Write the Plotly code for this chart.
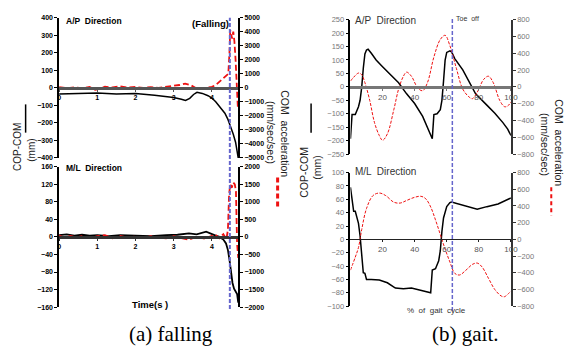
import plotly.graph_objects as go

W, H = 575, 354

# ---------------- (a) falling ----------------
fall_ap_cop_t = [0, 0.5, 1.0, 1.5, 2.0, 2.5, 3.0, 3.2, 3.31, 3.42, 3.52, 3.61, 3.75, 3.9, 4.0, 4.1,
                 4.17, 4.25, 4.34, 4.42, 4.47, 4.52, 4.56, 4.62, 4.67, 4.69]
fall_ap_cop = [-36, -33, -30, -35, -33, -42, -55, -65, -72, -60, -38, -26, -32, -45, -58, -80,
               -100, -120, -145, -180, -208, -235, -265, -310, -375, -400]

fall_ap_acc_t = [0, 0.2, 0.4, 0.6, 0.8, 0.95, 1.05, 1.2, 1.4, 1.6, 1.8, 2.0, 2.2, 2.4, 2.6, 2.8, 3.0,
                 3.15, 3.3, 3.45, 3.6, 3.75, 3.9, 4.0, 4.1, 4.2, 4.3, 4.38, 4.43, 4.46, 4.48, 4.5,
                 4.53, 4.56, 4.59, 4.62, 4.65, 4.68]
fall_ap_acc = [50, -30, 40, -20, 60, -150, -80, 80, 30, 100, 20, 60, -10, 50, 0, 80, 120,
               200, 300, 180, -50, -80, 30, 70, 200, 450, 700, 900, 1000, 2500, 4100, 3900,
               3500, 4000, 3300, 2000, 500, -1400]

fall_ml_cop_t = [0, 0.2, 0.4, 0.6, 0.8, 1.0, 1.3, 1.6, 2.0, 2.4, 2.8, 3.1, 3.4, 3.6, 3.85, 4.0, 4.1,
                 4.2, 4.3, 4.37, 4.42, 4.46, 4.5, 4.54, 4.58, 4.62, 4.66, 4.69]
fall_ml_cop = [4, 6, 3, 5, 3, 4, 2, 4, 3, 2, 4, 5, 8, 6, 12, 6, 3,
               0, -6, -15, -30, -52, -80, -105, -118, -125, -130, -150]

fall_ml_acc_t = [0, 0.15, 0.3, 0.45, 0.6, 0.8, 1.0, 1.2, 1.4, 1.6, 1.8, 2.0, 2.2, 2.4, 2.6, 2.8, 3.0,
                 3.2, 3.4, 3.6, 3.8, 4.0, 4.1, 4.2, 4.3, 4.38, 4.42, 4.45, 4.48, 4.52, 4.56, 4.6,
                 4.63, 4.66, 4.69]
fall_ml_acc = [40, -20, 30, -10, 20, -30, 20, 50, -40, 30, -20, 10, -30, 20, -10, -40, 20,
               -30, -80, 10, -50, 30, 60, -40, 80, -60, 200, 1200, 1500, 1400, 1550, 1500,
               1300, -200, -600]

fall_event_t = 4.47

# ---------------- (b) gait ----------------
gait_ap_cop_x = [0, 1, 3, 5, 6, 7, 8, 9, 10, 11, 13, 16, 20, 25, 30, 35, 40, 45, 50, 51, 52, 54,
                 56, 57, 58, 59, 60, 61, 62, 63, 65, 70, 75, 78, 85, 90, 95, 98, 100]
gait_ap_cop = [-193, -103, -103, -74, -50, -2, 69, 122, 137, 140, 125, 100, 75, 45, 15, -26, -62,
               -110, -175, -193, -103, -100, -85, -50, 21, 99, 128, 131, 134, 130, 105, 63, 4,
               -26, -68, -98, -133, -157, -181]

gait_ap_acc_x = [0, 2, 5, 7, 9, 12, 15, 18, 20, 23, 27, 30, 33, 35, 38, 42, 45, 48, 52, 56, 59,
                 62, 66, 70, 74, 76, 79, 83, 86, 89, 93, 96, 98, 100]
gait_ap_acc = [69, 114, 164, 145, 50, -160, -427, -580, -636, -560, -274, -27, 126, 175, 126,
               -15, -46, 50, 355, 564, 613, 488, 221, -27, -122, -141, -65, 88, 126, 50, -160,
               -236, -228, -179]

gait_ml_cop_x = [0, 1, 2, 3, 5, 6, 7, 8, 9, 10, 13, 18, 23, 28, 33, 38, 43, 48, 50, 51, 53, 55,
                 56, 57, 58, 60, 62, 63, 67, 73, 79, 85, 92, 100]
gait_ml_cop = [78, 61, 42, 42, 24, 5, -27, -50, -51, -60, -60, -61, -65, -73, -74, -73, -76, -79,
               -80, -46, -44, -32, -17, 12, 32, 49, 55, 56, 53, 49, 45, 49, 53, 62]

gait_ml_acc_x = [0, 3, 5, 7, 10, 14, 18, 22, 27, 31, 35, 40, 44, 47, 50, 53, 56, 59, 62, 65, 68,
                 72, 76, 79, 82, 86, 90, 94, 96, 99, 100]
gait_ml_acc = [-369, -213, -97, 116, 369, 524, 555, 524, 446, 435, 466, 504, 516, 485, 388, 233,
               58, -116, -272, -407, -427, -369, -300, -284, -330, -466, -602, -679, -687, -640,
               -621]

gait_event_x = 63.5

# ---------------- layout helpers ----------------
def px(x):
    return x / W


def py(y):
    return 1 - y / H


RED = "#ee1111"
BLUE = "#6666cc"

fig = go.Figure()

# traces: left panel
fig.add_trace(go.Scatter(x=fall_ap_cop_t, y=fall_ap_cop, xaxis="x", yaxis="y",
                         mode="lines", line=dict(color="black", width=1.5)))
fig.add_trace(go.Scatter(x=fall_ap_acc_t, y=fall_ap_acc, xaxis="x", yaxis="y2",
                         mode="lines", line=dict(color=RED, width=1.8, dash="6px,3px")))
fig.add_trace(go.Scatter(x=fall_ml_cop_t, y=fall_ml_cop, xaxis="x2", yaxis="y3",
                         mode="lines", line=dict(color="black", width=1.8)))
fig.add_trace(go.Scatter(x=fall_ml_acc_t, y=fall_ml_acc, xaxis="x2", yaxis="y4",
                         mode="lines", line=dict(color=RED, width=1.8, dash="6px,3px")))
# traces: right panel
fig.add_trace(go.Scatter(x=gait_ap_cop_x, y=gait_ap_cop, xaxis="x3", yaxis="y5",
                         mode="lines", line=dict(color="black", width=1.5)))
fig.add_trace(go.Scatter(x=gait_ap_acc_x, y=gait_ap_acc, xaxis="x3", yaxis="y6",
                         mode="lines", line=dict(color=RED, width=1, dash="3px,1.5px"),
                         line_shape="spline"))
fig.add_trace(go.Scatter(x=gait_ml_cop_x, y=gait_ml_cop, xaxis="x4", yaxis="y7",
                         mode="lines", line=dict(color="black", width=1.5)))
fig.add_trace(go.Scatter(x=gait_ml_acc_x, y=gait_ml_acc, xaxis="x4", yaxis="y8",
                         mode="lines", line=dict(color=RED, width=1, dash="3px,1.5px"),
                         line_shape="spline"))

FONT = "Liberation Sans"
lfont = dict(family=FONT, size=7, color="black", weight="bold")
rfont = dict(family=FONT, size=7.5, color="#777777")

left_x = [px(58), px(240)]
right_x = [px(354), px(517)]
dom_lt = [py(158), py(14)]
dom_lb = [py(311), py(167)]
dom_rt = [py(154), py(16)]
dom_rb = [py(310), py(173)]


def mid(d):
    return (d[0] + d[1]) / 2


def xax(domain, rng, pos, tickvals, font, lcolor, lw):
    return dict(domain=domain, range=rng, anchor="free", position=pos, showgrid=False,
                zeroline=False, showline=True, linecolor=lcolor, linewidth=lw,
                tickvals=tickvals, ticks="outside", ticklen=2, tickcolor=lcolor,
                tickfont=font, fixedrange=True)


def yax(domain, rng, dtick, anchor, font, lcolor, side="left", overlaying=None):
    d = dict(domain=domain, range=rng, dtick=dtick, tick0=0, anchor=anchor, side=side,
             showgrid=False, zeroline=False, showline=True, linecolor=lcolor, linewidth=1.5,
             ticks="outside", ticklen=3, tickcolor=lcolor, tickfont=dict(font), fixedrange=True)
    if overlaying:
        d["overlaying"] = overlaying
    return d


fig.update_layout(
    width=W, height=H, margin=dict(l=0, r=0, t=0, b=0), showlegend=False,
    paper_bgcolor="white", plot_bgcolor="rgba(0,0,0,0)",
    xaxis=xax(left_x, [0, 4.69], mid(dom_lt), [0, 1, 2, 3, 4], lfont, "#555555", 3),
    xaxis2=xax(left_x, [0, 4.69], mid(dom_lb), [0, 1, 2, 3, 4], lfont, "#333333", 2.5),
    xaxis3=xax(right_x, [0, 100], mid(dom_rt), [20, 40, 60, 80, 100],
               dict(family=FONT, size=8, color="#555555"), "#777777", 3),
    xaxis4=xax(right_x, [0, 100], mid(dom_rb), [20, 40, 60, 80, 100],
               dict(family=FONT, size=8, color="#555555"), "#222222", 1.2),
    yaxis=yax(dom_lt, [-400, 400], 100, "x", lfont, "black"),
    yaxis2=yax(dom_lt, [-5000, 5000], 1000, "x", lfont, "black", "right", "y"),
    yaxis3=yax(dom_lb, [-160, 160], 40, "x2", lfont, "black"),
    yaxis4=yax(dom_lb, [-2000, 2000], 500, "x2", lfont, "black", "right", "y3"),
    yaxis5=yax(dom_rt, [-250, 250], 50, "x3", rfont, "black"),
    yaxis6=yax(dom_rt, [-800, 800], 200, "x3", rfont, "#333333", "right", "y5"),
    yaxis7=yax(dom_rb, [-100, 100], 20, "x4", rfont, "black"),
    yaxis8=yax(dom_rb, [-800, 800], 200, "x4", rfont, "#333333", "right", "y7"),
)

shapes = [
    # event lines
    dict(type="line", xref="x", yref="paper", x0=fall_event_t, x1=fall_event_t,
         y0=py(313), y1=py(14), line=dict(color=BLUE, width=2, dash="4px,2px")),
    dict(type="line", xref="x3", yref="paper", x0=gait_event_x, x1=gait_event_x,
         y0=py(315), y1=py(14), line=dict(color=BLUE, width=1.5, dash="4px,2px")),
    # legend keys
    dict(type="line", xref="paper", yref="paper", x0=px(24), x1=px(24), y0=py(103), y1=py(132),
         line=dict(color="black", width=1.5)),
    dict(type="line", xref="paper", yref="paper", x0=px(280), x1=px(280), y0=py(178), y1=py(210),
         line=dict(color=RED, width=3, dash="5px,3px")),
    dict(type="line", xref="paper", yref="paper", x0=px(314), x1=px(314), y0=py(102), y1=py(132),
         line=dict(color="black", width=1.5)),
    dict(type="line", xref="paper", yref="paper", x0=px(558), x1=px(558), y0=py(188), y1=py(217),
         line=dict(color=RED, width=2, dash="4px,3px")),
]


def ann(text, x, y, size, xanchor="center", angle=0, color="black", weight="normal",
        family=FONT):
    return dict(text=text, x=px(x), y=py(y), xref="paper", yref="paper", showarrow=False,
                xanchor=xanchor, yanchor="middle", textangle=angle,
                font=dict(family=family, size=size, color=color, weight=weight))


annotations = [
    ann("A/P  Direction", 63, 17, 8.5, "left", weight="bold"),
    ann("M/L  Direction", 63, 168, 8.5, "left", weight="bold"),
    ann("(Falling)", 212, 20, 9.5, weight="bold"),
    ann("Time(s )", 150, 308, 9.5, weight="bold"),
    ann("COP-COM", 16, 147, 10, angle=-90, color="#222222"),
    ann("(mm)", 30, 150, 10, angle=-90, color="#222222"),
    ann("COM  acceleration", 288, 133, 10.5, angle=90, color="#222222"),
    ann("(mm/sec/sec)", 274, 132, 10.5, angle=90, color="#222222"),
    ann("A/P  Direction", 357, 17, 10, "left", color="#333333"),
    ann("M/L  Direction", 357, 172, 10, "left", color="#333333"),
    ann("Toe  off", 459, 15, 7, "left", color="#333333"),
    ann("%  of  gait  cycle", 441, 315, 8, color="#333333"),
    ann("COP-COM", 306, 173, 10.5, angle=-90, color="#222222"),
    ann("(mm)", 320, 167, 10.5, angle=-90, color="#222222"),
    ann("COM  acceleration", 565, 142, 10.5, angle=90, color="#222222"),
    ann("(mm/sec/sec)", 551, 144, 10.5, angle=90, color="#222222"),
    ann("(a) falling", 172, 339, 21, family="Liberation Serif"),
    ann("(b) gait.", 470, 339, 21, family="Liberation Serif"),
]

fig.update_layout(shapes=shapes, annotations=annotations)

fig.write_html("out.html", config={"displayModeBar": False},
               post_script="document.body.style.margin='0';document.body.style.overflow='hidden';")
